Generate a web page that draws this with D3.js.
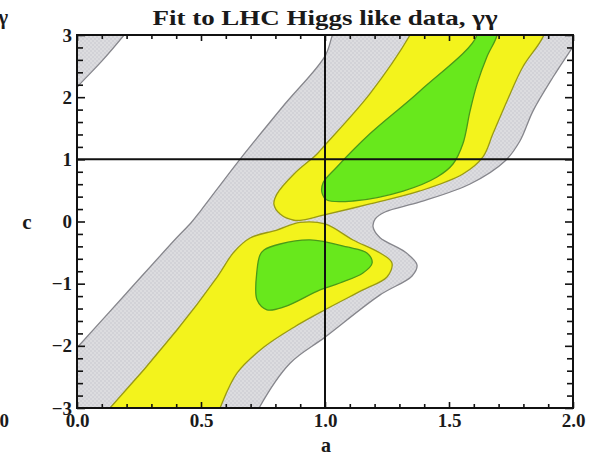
<!DOCTYPE html>
<html>
<head>
<meta charset="utf-8">
<script src="https://cdn.jsdelivr.net/npm/d3@7"></script>
<style>
  html, body { margin: 0; padding: 0; background: #fff; }
  svg { display: block; }
  text { font-family: "Liberation Serif", "DejaVu Serif", serif; font-weight: bold; fill: #1a1a1a; }
</style>
</head>
<body>
<svg id="chart" width="593" height="458"></svg>
<script>
// Confidence regions in the (a, c) plane, each a closed boundary of [a, c] points.
// Points lying just outside the frame close the shapes along the plot edges.
const greyBand = [
  [-0.15, -3.4], [-0.05, -2.25], [0.0, -2.03], [0.2, -1.15], [0.40, -0.27], [0.46, -0.02],
  [0.50, 0.18], [0.657, 1.0], [0.83, 1.85], [1.0, 2.66], [1.03, 3.0], [1.06, 3.3],
  [2.2, 3.3], [2.05, 3.1], [1.988, 2.74], [1.919, 2.32], [1.839, 1.78], [1.786, 1.295],
  [1.726, 0.973], [1.585, 0.603], [1.383, 0.314], [1.242, 0.153], [1.202, 0.04],
  [1.194, -0.09], [1.222, -0.26], [1.323, -0.49], [1.371, -0.70], [1.351, -0.876],
  [1.222, -1.18], [1.0, -1.86], [0.859, -2.28], [0.734, -3.0], [0.70, -3.3]
];
const greyCorner = [
  [-0.1, 1.7], [0.0, 2.16], [0.1, 2.58], [0.19, 3.0], [0.24, 3.25], [-0.1, 3.25]
];
const yellowUpper = [
  [1.38, 3.3], [1.343, 3.0], [1.18, 2.05], [1.0, 1.23], [0.968, 1.086], [0.875, 0.764],
  [0.806, 0.44], [0.794, 0.28], [0.819, 0.12], [0.875, 0.02], [0.92, 0.03], [0.98, 0.089],
  [1.181, 0.282], [1.383, 0.491], [1.556, 0.764], [1.637, 1.04], [1.677, 1.41],
  [1.734, 1.94], [1.798, 2.49], [1.879, 2.97], [1.90, 3.3]
];
const yellowLower = [
  [0.06, -3.3], [0.133, -3.0], [0.403, -1.745], [0.565, -0.893], [0.633, -0.49],
  [0.698, -0.265], [0.806, -0.137], [0.899, -0.015], [1.0, -0.04], [1.113, -0.297],
  [1.222, -0.506], [1.27, -0.667], [1.25, -0.893], [1.153, -1.10], [1.0, -1.42],
  [0.875, -1.70], [0.754, -2.02], [0.645, -2.44], [0.577, -3.0], [0.55, -3.3]
];
const greenUpper = [
  [1.60, 3.3], [1.613, 3.0], [1.383, 2.10], [1.181, 1.41], [1.048, 0.877], [0.992, 0.62],
  [0.988, 0.46], [1.008, 0.346], [1.113, 0.33], [1.315, 0.49], [1.452, 0.716],
  [1.516, 0.925], [1.556, 1.25], [1.585, 1.78], [1.613, 2.21], [1.653, 2.65],
  [1.694, 3.0], [1.70, 3.3]
];
const greenLower = [
  [0.754, -0.458], [0.819, -0.362], [0.94, -0.297], [1.089, -0.41], [1.169, -0.506],
  [1.19, -0.667], [1.153, -0.828], [1.06, -0.989], [0.98, -1.10], [0.835, -1.375],
  [0.766, -1.42], [0.726, -1.26], [0.726, -0.78], [0.738, -0.539]
];

// Reference (Standard Model) point a = 1, c = 1
const refA = [1];
const refC = [1];

// Axis ticks
const aMajor = [0, 0.5, 1, 1.5, 2];
const aMajorLabels = ["0.0", "0.5", "1.0", "1.5", "2.0"];
const aMinor = [0.1, 0.2, 0.3, 0.4, 0.6, 0.7, 0.8, 0.9, 1.1, 1.2, 1.3, 1.4, 1.6, 1.7, 1.8, 1.9];
const cMajor = [-3, -2, -1, 0, 1, 2, 3];
const cMajorLabels = ["\u22123", "\u22122", "\u22121", "0", "1", "2", "3"];
const cMinor = [-2.8, -2.6, -2.4, -2.2, -1.8, -1.6, -1.4, -1.2, -0.8, -0.6, -0.4, -0.2,
                0.2, 0.4, 0.6, 0.8, 1.2, 1.4, 1.6, 1.8, 2.2, 2.4, 2.6, 2.8];

const titleText = "Fit to LHC Higgs like data, \u03b3\u03b3";
const xLabel = "a";
const yLabel = "c";

const svg = d3.select("#chart");
const x0 = 77, x1 = 573, y0 = 35, y1 = 408;
const x = d3.scaleLinear().domain([0, 2]).range([x0, x1]);
const y = d3.scaleLinear().domain([-3, 3]).range([y1, y0]);

const defs = svg.append("defs");
defs.append("clipPath").attr("id", "plotclip")
  .append("rect").attr("x", x0).attr("y", y0).attr("width", x1 - x0).attr("height", y1 - y0);

// faint mesh texture of the outer region
const pat = defs.append("pattern").attr("id", "mesh").attr("patternUnits", "userSpaceOnUse")
  .attr("width", 4).attr("height", 4);
pat.append("rect").attr("width", 4).attr("height", 4).attr("fill", "#dcdcdf");
pat.append("rect").attr("width", 2).attr("height", 2).attr("fill", "#d2d2d7");
pat.append("rect").attr("x", 2).attr("y", 2).attr("width", 2).attr("height", 2).attr("fill", "#d2d2d7");

const line = d3.line().x(d => x(d[0])).y(d => y(d[1])).curve(d3.curveCatmullRomClosed.alpha(0.5));

const plot = svg.append("g").attr("clip-path", "url(#plotclip)");

const regions = [
  { pts: greyBand,    fill: "url(#mesh)", stroke: "#86868c" },
  { pts: greyCorner,  fill: "url(#mesh)", stroke: "#86868c" },
  { pts: yellowUpper, fill: "#f3f31c",    stroke: "#9a9a14" },
  { pts: yellowLower, fill: "#f3f31c",    stroke: "#9a9a14" },
  { pts: greenUpper,  fill: "#68e81c",    stroke: "#4a9a18" },
  { pts: greenLower,  fill: "#68e81c",    stroke: "#4a9a18" }
];
plot.selectAll("path.region").data(regions).join("path")
  .attr("class", "region")
  .attr("d", d => line(d.pts))
  .attr("fill", d => d.fill)
  .attr("stroke", d => d.stroke)
  .attr("stroke-width", 1.3)
  .attr("stroke-linejoin", "round");

// reference cross-hair
plot.selectAll("line.va").data(refA).join("line").attr("class", "va")
  .attr("x1", d => x(d)).attr("x2", d => x(d)).attr("y1", y0).attr("y2", y1)
  .attr("stroke", "#111").attr("stroke-width", 2);
plot.selectAll("line.hc").data(refC).join("line").attr("class", "hc")
  .attr("y1", d => y(d)).attr("y2", d => y(d)).attr("x1", x0).attr("x2", x1)
  .attr("stroke", "#111").attr("stroke-width", 2);

// ticks on all four sides, pointing inward
function styleAxis(g) {
  g.select(".domain").remove();
  g.selectAll(".tick line").attr("stroke", "#111").attr("stroke-width", 1.6);
  g.selectAll(".tick text").attr("font-family", "Liberation Serif, DejaVu Serif, serif")
    .attr("font-weight", "bold").attr("font-size", 19).attr("fill", "#1a1a1a");
}
const fmtA = d => aMajorLabels[aMajor.indexOf(d)];
const fmtC = d => cMajorLabels[cMajor.indexOf(d)];

svg.append("g").attr("transform", `translate(0,${y1})`)
  .call(d3.axisBottom(x).tickValues(aMajor).tickFormat(fmtA).tickSize(-6).tickPadding(6)).call(styleAxis);
svg.append("g").attr("transform", `translate(0,${y1})`)
  .call(d3.axisBottom(x).tickValues(aMinor).tickFormat("").tickSize(-4)).call(styleAxis);
svg.append("g").attr("transform", `translate(0,${y0})`)
  .call(d3.axisTop(x).tickValues(aMajor).tickFormat("").tickSize(-6)).call(styleAxis);
svg.append("g").attr("transform", `translate(0,${y0})`)
  .call(d3.axisTop(x).tickValues(aMinor).tickFormat("").tickSize(-4)).call(styleAxis);

svg.append("g").attr("transform", `translate(${x0},0)`)
  .call(d3.axisLeft(y).tickValues(cMajor).tickFormat(fmtC).tickSize(-8).tickPadding(5)).call(styleAxis);
svg.append("g").attr("transform", `translate(${x0},0)`)
  .call(d3.axisLeft(y).tickValues(cMinor).tickFormat("").tickSize(-6)).call(styleAxis);
svg.append("g").attr("transform", `translate(${x1},0)`)
  .call(d3.axisRight(y).tickValues(cMajor).tickFormat("").tickSize(-8)).call(styleAxis);
svg.append("g").attr("transform", `translate(${x1},0)`)
  .call(d3.axisRight(y).tickValues(cMinor).tickFormat("").tickSize(-6)).call(styleAxis);

// frame
svg.append("rect").attr("x", x0).attr("y", y0).attr("width", x1 - x0).attr("height", y1 - y0)
  .attr("fill", "none").attr("stroke", "#111").attr("stroke-width", 2);

// title and axis names
svg.append("text").attr("x", (x0 + x1) / 2).attr("y", 25).attr("text-anchor", "middle")
  .attr("font-size", 21).attr("textLength", 345).attr("lengthAdjust", "spacingAndGlyphs")
  .text(titleText);
svg.append("text").attr("x", (x0 + x1) / 2 + 1).attr("y", 452).attr("text-anchor", "middle")
  .attr("font-size", 20).text(xLabel);
svg.append("text").attr("x", 27).attr("y", 229).attr("text-anchor", "middle")
  .attr("font-size", 21).text(yLabel);

// edges of the neighbouring panel, cut off at the left border
svg.append("text").attr("x", 8).attr("y", 24).attr("text-anchor", "end")
  .attr("font-size", 21).text("\u03b3");
svg.append("text").attr("x", 9).attr("y", 427).attr("text-anchor", "end")
  .attr("font-size", 19).text("2.0");
</script>
</body>
</html>
